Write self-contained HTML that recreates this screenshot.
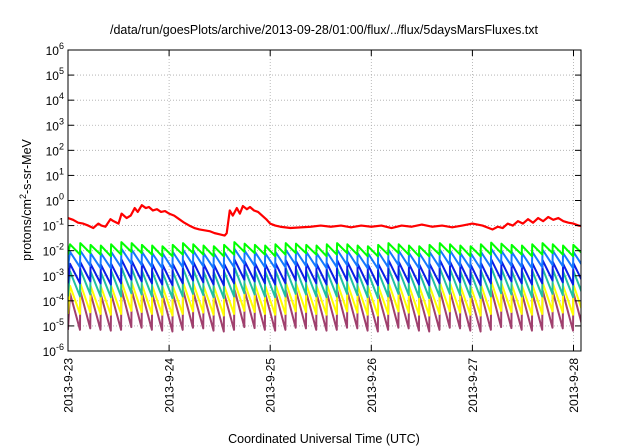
<!DOCTYPE html>
<html><head><meta charset="utf-8"><style>
body{margin:0;background:#fff;}
svg{display:block;font-family:"Liberation Sans",sans-serif;}
</style></head><body>
<svg id="chart" width="640" height="448" viewBox="0 0 640 448">
<rect width="640" height="448" fill="#fff"/>
<text x="324" y="34" font-size="12.5" text-anchor="middle">/data/run/goesPlots/archive/2013-09-28/01:00/flux/../flux/5daysMarsFluxes.txt</text>
<text transform="translate(31,200) rotate(-90)" font-size="12.5" text-anchor="middle">protons/cm<tspan dy="-5" font-size="9">2</tspan><tspan dy="5">-s-sr-MeV</tspan></text>
<text x="324" y="443" font-size="12.5" text-anchor="middle">Coordinated Universal Time (UTC)</text>
<g id="grid"></g>
<g id="series" clip-path="url(#clip)"></g>
<g id="axes"></g>
<defs><clipPath id="clip"><rect x="68" y="49" width="513" height="303"/></clipPath></defs>
</svg>
<script>
const xTickLabels=["2013-9-23","2013-9-24","2013-9-25","2013-9-26","2013-9-27","2013-9-28"];
const yTickExps=[-6,-5,-4,-3,-2,-1,0,1,2,3,4,5,6];
const cycleStart=0.02, cyclePeriod=0.1016;
const redT=[0,0.05,0.1,0.15,0.2,0.25,0.3,0.33,0.37,0.42,0.45,0.5,0.53,0.58,0.62,0.66,0.69,0.73,0.77,0.8,0.84,0.88,0.92,0.96,1.0,1.05,1.1,1.15,1.2,1.25,1.3,1.35,1.4,1.45,1.5,1.55,1.57,1.6,1.63,1.67,1.7,1.73,1.77,1.8,1.84,1.88,1.92,1.96,2.0,2.05,2.1,2.2,2.3,2.4,2.5,2.6,2.7,2.8,2.9,3.0,3.1,3.2,3.3,3.4,3.5,3.6,3.7,3.8,3.9,4.0,4.1,4.2,4.25,4.3,4.35,4.4,4.45,4.5,4.55,4.6,4.65,4.7,4.75,4.8,4.85,4.9,4.95,5.0,5.05,5.08];
const redV=[0.2,0.17,0.13,0.12,0.1,0.08,0.12,0.1,0.09,0.18,0.15,0.12,0.3,0.2,0.25,0.5,0.35,0.65,0.5,0.55,0.4,0.45,0.35,0.38,0.3,0.25,0.18,0.13,0.1,0.08,0.07,0.065,0.06,0.05,0.045,0.04,0.05,0.4,0.25,0.5,0.3,0.6,0.45,0.55,0.4,0.35,0.25,0.18,0.12,0.1,0.09,0.08,0.085,0.09,0.1,0.09,0.1,0.085,0.1,0.09,0.1,0.08,0.1,0.09,0.11,0.09,0.1,0.085,0.1,0.12,0.1,0.07,0.09,0.08,0.12,0.1,0.15,0.12,0.18,0.13,0.2,0.15,0.22,0.17,0.2,0.15,0.13,0.12,0.1,0.095];
const greenPeaks=[0.018,0.02,0.017,0.016,0.018,0.022,0.02,0.017,0.016,0.015,0.017,0.02,0.018,0.016,0.015,0.017,0.022,0.019,0.017,0.016,0.018,0.02,0.019,0.017,0.016,0.018,0.02,0.018,0.016,0.015,0.017,0.02,0.018,0.016,0.015,0.017,0.02,0.018,0.016,0.015,0.018,0.021,0.019,0.017,0.016,0.018,0.02,0.018,0.016,0.017];
const greenTroughs=[0.007,0.008,0.007,0.006,0.007,0.009,0.008,0.007,0.006,0.006,0.007,0.008,0.007,0.006,0.006,0.007,0.009,0.008,0.007,0.006,0.007,0.008,0.008,0.007,0.006,0.007,0.008,0.007,0.006,0.006,0.007,0.008,0.007,0.006,0.006,0.007,0.008,0.007,0.006,0.006,0.007,0.008,0.008,0.007,0.006,0.007,0.008,0.007,0.006,0.007];
const dodgerPeaks=[0.009,0.01,0.008,0.008,0.009,0.012,0.011,0.009,0.008,0.008,0.009,0.011,0.01,0.008,0.008,0.009,0.012,0.01,0.009,0.008,0.009,0.011,0.01,0.009,0.008,0.009,0.011,0.01,0.008,0.008,0.009,0.011,0.01,0.008,0.008,0.009,0.011,0.01,0.008,0.008,0.009,0.012,0.01,0.009,0.008,0.009,0.011,0.01,0.008,0.009];
const dodgerTroughs=[0.0022,0.0025,0.002,0.002,0.0022,0.003,0.0027,0.0022,0.002,0.0019,0.0022,0.0027,0.0024,0.002,0.0019,0.0022,0.003,0.0025,0.0022,0.002,0.0022,0.0027,0.0025,0.0022,0.002,0.0022,0.0027,0.0024,0.002,0.0019,0.0022,0.0027,0.0024,0.002,0.0019,0.0022,0.0027,0.0024,0.002,0.0019,0.0022,0.003,0.0025,0.0022,0.002,0.0022,0.0027,0.0024,0.002,0.0022];
const bluePeaks=[0.003,0.0035,0.003,0.0028,0.003,0.0045,0.004,0.0032,0.003,0.0028,0.003,0.0042,0.0036,0.003,0.0028,0.003,0.0045,0.0038,0.0032,0.003,0.0032,0.0042,0.0038,0.0032,0.003,0.0032,0.0042,0.0036,0.003,0.0028,0.003,0.0042,0.0036,0.003,0.0028,0.003,0.0042,0.0036,0.003,0.0028,0.0032,0.0045,0.0038,0.0032,0.003,0.0032,0.0042,0.0036,0.003,0.0032];
const blueTroughs=[0.0005,0.0006,0.0005,0.00045,0.0005,0.0007,0.0006,0.0005,0.00045,0.00042,0.0005,0.00065,0.00055,0.00045,0.00042,0.0005,0.0007,0.0006,0.0005,0.00045,0.0005,0.00065,0.0006,0.0005,0.00045,0.0005,0.00065,0.00055,0.00045,0.00042,0.0005,0.00065,0.00055,0.00045,0.00042,0.0005,0.00065,0.00055,0.00045,0.00042,0.0005,0.0007,0.0006,0.0005,0.00045,0.0005,0.00065,0.00055,0.00045,0.0005];
const tealPeaks=[0.0015,0.0018,0.0015,0.0014,0.0016,0.0022,0.002,0.0016,0.0015,0.0014,0.0015,0.002,0.0018,0.0015,0.0014,0.0015,0.0022,0.0019,0.0016,0.0015,0.0016,0.002,0.0019,0.0016,0.0015,0.0016,0.002,0.0018,0.0015,0.0014,0.0015,0.002,0.0018,0.0015,0.0014,0.0015,0.002,0.0018,0.0015,0.0014,0.0016,0.0022,0.0019,0.0016,0.0015,0.0016,0.002,0.0018,0.0015,0.0016];
const tealTroughs=[0.00015,0.00018,0.00015,0.00014,0.00015,0.0002,0.00018,0.00015,0.00014,0.00013,0.00015,0.00019,0.00017,0.00014,0.00013,0.00015,0.0002,0.00018,0.00015,0.00014,0.00015,0.00019,0.00018,0.00015,0.00014,0.00015,0.00019,0.00017,0.00014,0.00013,0.00015,0.00019,0.00017,0.00014,0.00013,0.00015,0.00019,0.00017,0.00014,0.00013,0.00015,0.0002,0.00018,0.00015,0.00014,0.00015,0.00019,0.00017,0.00014,0.00015];
const yellowPeaks=[0.0004,0.0005,0.0004,0.00038,0.0004,0.0006,0.00055,0.00045,0.0004,0.00038,0.0004,0.00055,0.0005,0.0004,0.00038,0.0004,0.0006,0.0005,0.00045,0.0004,0.00045,0.00055,0.0005,0.00045,0.0004,0.00045,0.00055,0.0005,0.0004,0.00038,0.0004,0.00055,0.0005,0.0004,0.00038,0.0004,0.00055,0.0005,0.0004,0.00038,0.00045,0.0006,0.0005,0.00045,0.0004,0.00045,0.00055,0.0005,0.0004,0.00045];
const yellowTroughs=[0.00003,0.000035,0.00003,0.000028,0.00003,0.00004,0.000036,0.00003,0.000028,0.000026,0.00003,0.000038,0.000034,0.000028,0.000026,0.00003,0.00004,0.000036,0.00003,0.000028,0.00003,0.000038,0.000036,0.00003,0.000028,0.00003,0.000038,0.000034,0.000028,0.000026,0.00003,0.000038,0.000034,0.000028,0.000026,0.00003,0.000038,0.000034,0.000028,0.000026,0.00003,0.00004,0.000036,0.00003,0.000028,0.00003,0.000038,0.000034,0.000028,0.00003];
const purplePeaks=[0.0002,0.00025,0.0002,0.00018,0.0002,0.0003,0.00027,0.00022,0.0002,0.00018,0.0002,0.00028,0.00024,0.0002,0.00018,0.0002,0.0003,0.00026,0.00022,0.0002,0.00022,0.00028,0.00026,0.00022,0.0002,0.00022,0.00028,0.00024,0.0002,0.00018,0.0002,0.00028,0.00024,0.0002,0.00018,0.0002,0.00028,0.00024,0.0002,0.00018,0.00022,0.0003,0.00026,0.00022,0.0002,0.00022,0.00028,0.00024,0.0002,0.00022];
const purpleTroughs=[0.000007,0.000008,0.000007,0.0000065,0.000007,0.000009,0.0000085,0.000007,0.0000065,0.000006,0.000007,0.0000085,0.000008,0.0000065,0.000006,0.000007,0.000009,0.0000082,0.000007,0.0000065,0.000007,0.0000085,0.000008,0.000007,0.0000065,0.000007,0.0000085,0.000008,0.0000065,0.000006,0.000007,0.0000085,0.000008,0.0000065,0.000006,0.000007,0.0000085,0.000008,0.0000065,0.000006,0.000007,0.000009,0.0000082,0.000007,0.0000065,0.000007,0.0000085,0.000008,0.0000065,0.000007];

const L=68,R=581,T=50,B=351;
const X=t=>L+t*101.1;
const Y=v=>B-(Math.log10(v)+6)*(B-T)/12;
const NS="http://www.w3.org/2000/svg";
function mk(tag,attrs,parent){const e=document.createElementNS(NS,tag);for(const k in attrs)e.setAttribute(k,attrs[k]);parent.appendChild(e);return e;}
const grid=document.getElementById('grid'),axes=document.getElementById('axes'),ser=document.getElementById('series');

xTickLabels.forEach((lab,i)=>{
  const x=X(i);
  if(i>0){const g=mk('line',{x1:x,x2:x,y1:T,y2:B,stroke:'#aaa','stroke-width':0.8,'stroke-dasharray':'1,2'},grid);
  
  }
  mk('line',{x1:x,x2:x,y1:B,y2:B-6,stroke:'#000'},axes);
  mk('line',{x1:x,x2:x,y1:T,y2:T+6,stroke:'#000'},axes);
  const tx=mk('text',{transform:`translate(${x+4.5},${B+7}) rotate(-90)`,'font-size':12,'text-anchor':'end'},axes);
  tx.textContent=lab;
  
  
});
yTickExps.forEach(e=>{
  const y=Y(Math.pow(10,e));
  if(e>-6&&e<6){const g=mk('line',{x1:L,x2:R,y1:y,y2:y,stroke:'#aaa','stroke-width':0.8,'stroke-dasharray':'1,2'},grid);
  
  }
  mk('line',{x1:L,x2:L+6,y1:y,y2:y,stroke:'#000'},axes);
  mk('line',{x1:R,x2:R-6,y1:y,y2:y,stroke:'#000'},axes);
  const tx=mk('text',{x:L-4,y:y+5,'font-size':12,'text-anchor':'end'},axes);
  tx.appendChild(document.createTextNode('10'));
  const sp=mk('tspan',{dy:-6,'font-size':9},tx);
  sp.textContent=String(e);
  
  
});
const frame=mk('rect',{x:L,y:T,width:R-L,height:B-T,fill:'none',stroke:'#000','stroke-width':1},axes);



function saw(peaks,troughs,color,name){
  let d=`M${X(0)},${Y(troughs[0])}`;
  peaks.forEach((p,i)=>{
    const t=cycleStart+i*cyclePeriod;
    d+=` L${X(t)},${Y(p)} L${X(t+cyclePeriod*0.97)},${Y(troughs[i])}`;
  });
  const pth=mk('path',{d,fill:'none',stroke:color,'stroke-width':2,'stroke-linejoin':'round'},ser);
  
  
}
saw(purplePeaks,purpleTroughs,'#a0406e','series-purple');
saw(yellowPeaks,yellowTroughs,'#ffff00','series-yellow');
saw(tealPeaks,tealTroughs,'#20c0a0','series-teal');
saw(bluePeaks,blueTroughs,'#0a1ee6','series-blue');
saw(dodgerPeaks,dodgerTroughs,'#1478ff','series-dodgerblue');
saw(greenPeaks,greenTroughs,'#00ff00','series-green');
const rd=redT.map((t,i)=>(i?'L':'M')+X(t)+','+Y(redV[i])).join(' ');
const rp=mk('path',{d:rd,fill:'none',stroke:'#ff0000','stroke-width':2.2,'stroke-linejoin':'round'},ser);


</script>
</body></html>
